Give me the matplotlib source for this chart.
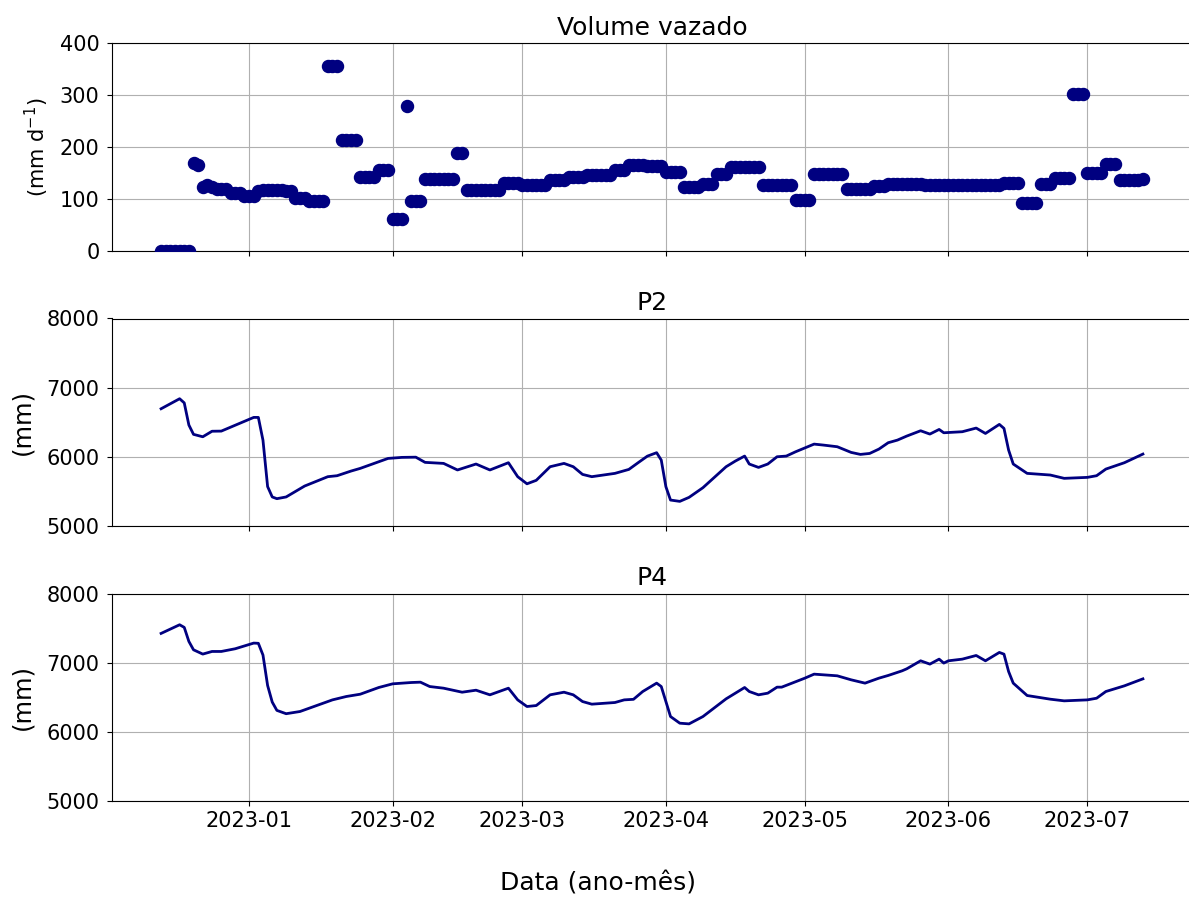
import matplotlib
matplotlib.use("Agg")
import matplotlib.pyplot as plt
import matplotlib.dates as mdates
import pandas as pd

# ---------------- data ----------------
vol_start = "2022-12-13"
vol_values = [
    # Dec 13-31
    0, 0, 0, 0, 0, 0, 0, 170, 165, 123, 126, 122, 118, 118, 118, 112, 112, 112, 105,
    # Jan
    105, 105, 116, 117, 117, 117, 117, 117, 116, 116, 101, 101, 101, 96, 96, 96, 96,
    357, 357, 357, 213, 213, 213, 213, 143, 143, 143, 143, 156, 156, 156,
    # Feb
    61, 61, 61, 278, 96, 96, 96, 138, 138, 138, 138, 138, 138, 138, 189, 189,
    117, 117, 117, 117, 117, 117, 117, 117, 131, 131, 131, 131,
    # Mar
    127, 127, 127, 127, 127, 127, 136, 136, 136, 136, 142, 142, 142, 142,
    146, 146, 146, 146, 146, 146, 156, 156, 156, 166, 166, 166, 166, 163, 163, 163, 163,
    # Apr
    151, 151, 151, 151, 123, 123, 123, 123, 129, 129, 129, 148, 148, 148,
    161, 161, 161, 161, 161, 161, 161, 127, 127, 127, 127, 127, 127, 127, 98, 98,
    # May
    98, 98, 147, 147, 147, 147, 147, 147, 147, 118, 118, 118, 118, 118, 118,
    125, 125, 125, 129, 129, 129, 129, 129, 129, 129, 129, 126, 126, 126, 126, 126,
    # Jun
    126, 126, 126, 126, 126, 126, 126, 126, 126, 126, 126, 126, 131, 131, 131, 131,
    91, 91, 91, 91, 128, 128, 128, 141, 141, 141, 141, 302, 302, 302,
    # Jul 1-13
    149, 149, 149, 149, 168, 168, 168, 136, 136, 136, 136, 136, 139,
]

p2_dates = ["2022-12-13", "2022-12-17", "2022-12-18", "2022-12-19", "2022-12-20", "2022-12-22",
            "2022-12-24", "2022-12-26", "2023-01-02", "2023-01-03", "2023-01-04", "2023-01-05",
            "2023-01-06", "2023-01-07", "2023-01-09", "2023-01-13", "2023-01-18", "2023-01-20",
            "2023-01-23", "2023-01-25", "2023-01-28", "2023-01-31", "2023-02-03", "2023-02-06",
            "2023-02-08", "2023-02-12", "2023-02-15", "2023-02-19", "2023-02-22", "2023-02-26",
            "2023-02-28", "2023-03-02", "2023-03-04", "2023-03-07", "2023-03-10", "2023-03-12",
            "2023-03-14", "2023-03-16", "2023-03-21", "2023-03-24", "2023-03-26", "2023-03-28",
            "2023-03-30", "2023-03-31", "2023-04-01", "2023-04-02", "2023-04-04", "2023-04-06",
            "2023-04-09", "2023-04-14", "2023-04-16", "2023-04-18", "2023-04-19", "2023-04-21",
            "2023-04-23", "2023-04-25", "2023-04-27", "2023-04-29", "2023-05-03", "2023-05-05",
            "2023-05-08", "2023-05-11", "2023-05-13", "2023-05-15", "2023-05-17", "2023-05-19",
            "2023-05-21", "2023-05-23", "2023-05-26", "2023-05-28", "2023-05-30", "2023-05-31",
            "2023-06-04", "2023-06-07", "2023-06-09", "2023-06-12", "2023-06-13", "2023-06-14",
            "2023-06-15", "2023-06-18", "2023-06-23", "2023-06-26", "2023-07-01", "2023-07-03",
            "2023-07-05", "2023-07-09", "2023-07-13"]
p2_values = [6695, 6840, 6780, 6460, 6325, 6290, 6370, 6372, 6570, 6570, 6240, 5570, 5420, 5395,
             5420, 5578, 5713, 5727, 5794, 5833, 5905, 5977, 5992, 5995, 5920, 5905, 5810, 5896,
             5810, 5915, 5713, 5610, 5660, 5857, 5905, 5857, 5746, 5713, 5761, 5818, 5915, 6010,
             6060, 5953, 5568, 5375, 5356, 5414, 5554, 5857, 5939, 6011, 5896, 5847, 5896, 6001,
             6011, 6073, 6184, 6170, 6146, 6064, 6035, 6049, 6112, 6204, 6242, 6300, 6377, 6329,
             6396, 6348, 6363, 6416, 6338, 6469, 6411, 6098, 5896, 5761, 5737, 5689, 5703, 5727,
             5823, 5915, 6040]

p4_dates = ["2022-12-13", "2022-12-17", "2022-12-18", "2022-12-19", "2022-12-20", "2022-12-22",
            "2022-12-24", "2022-12-26", "2022-12-29", "2023-01-02", "2023-01-03", "2023-01-04",
            "2023-01-05", "2023-01-06", "2023-01-07", "2023-01-09", "2023-01-12", "2023-01-19",
            "2023-01-22", "2023-01-25", "2023-01-29", "2023-02-01", "2023-02-05", "2023-02-07",
            "2023-02-09", "2023-02-12", "2023-02-16", "2023-02-19", "2023-02-22", "2023-02-26",
            "2023-02-28", "2023-03-02", "2023-03-04", "2023-03-07", "2023-03-10", "2023-03-12",
            "2023-03-14", "2023-03-16", "2023-03-21", "2023-03-23", "2023-03-25", "2023-03-27",
            "2023-03-30", "2023-03-31", "2023-04-01", "2023-04-02", "2023-04-04", "2023-04-06",
            "2023-04-09", "2023-04-14", "2023-04-18", "2023-04-19", "2023-04-21", "2023-04-23",
            "2023-04-25", "2023-04-26", "2023-05-01", "2023-05-03", "2023-05-08", "2023-05-11",
            "2023-05-14", "2023-05-17", "2023-05-19", "2023-05-22", "2023-05-23", "2023-05-26",
            "2023-05-28", "2023-05-30", "2023-05-31", "2023-06-01", "2023-06-04", "2023-06-07",
            "2023-06-09", "2023-06-12", "2023-06-13", "2023-06-14", "2023-06-15", "2023-06-18",
            "2023-06-23", "2023-06-26", "2023-07-01", "2023-07-03", "2023-07-05", "2023-07-09",
            "2023-07-13"]
p4_values = [7423, 7548, 7510, 7307, 7186, 7124, 7162, 7162, 7201, 7283, 7280, 7110, 6670, 6430,
             6310, 6262, 6294, 6462, 6511, 6544, 6641, 6694, 6713, 6718, 6655, 6631, 6573, 6602,
             6535, 6631, 6462, 6366, 6380, 6535, 6573, 6535, 6438, 6400, 6424, 6462, 6470, 6583,
             6704, 6655, 6438, 6221, 6125, 6115, 6221, 6477, 6641, 6583, 6535, 6559, 6646, 6646,
             6776, 6834, 6810, 6752, 6704, 6776, 6815, 6882, 6911, 7027, 6979, 7051, 6994, 7027,
             7051, 7104, 7027, 7148, 7123, 6872, 6704, 6525, 6472, 6448, 6462, 6486, 6583, 6665,
             6766]

titles = ["Volume vazado", "P2", "P4"]
ylabels = ["(mm d$^{-1}$)", "(mm)", "(mm)"]
xlabel = "Data (ano-mês)"

# ---------------- figure ----------------
W, H = 1189, 898
fig = plt.figure(figsize=(W / 100, H / 100), dpi=100)
color = "#000080"

left = 112 / W
width = 1080 / W
ax1 = fig.add_axes([left, 1 - 250.7 / H, width, 207.5 / H])
ax2 = fig.add_axes([left, 1 - 526 / H, width, 207.5 / H], sharex=ax1)
ax3 = fig.add_axes([left, 1 - 801 / H, width, 207.5 / H], sharex=ax1)

vol_dates = pd.date_range(vol_start, periods=len(vol_values), freq="D")
ax1.scatter(vol_dates, vol_values, s=75, color=color, zorder=3)
ax2.plot(pd.to_datetime(p2_dates), p2_values, color=color, lw=2)
ax3.plot(pd.to_datetime(p4_dates), p4_values, color=color, lw=2)

ax1.set_ylim(0, 400)
ax1.set_yticks([0, 100, 200, 300, 400])
for ax in (ax2, ax3):
    ax.set_ylim(5000, 8000)
    ax.set_yticks([5000, 6000, 7000, 8000])

for ax, t in zip((ax1, ax2, ax3), titles):
    ax.set_title(t, fontsize=18)
    ax.grid(True)
    ax.set_axisbelow(True)
    ax.tick_params(labelsize=15)
    ax.tick_params(axis="y", pad=5.5)
ax1.set_ylabel(ylabels[0], fontsize=15, labelpad=6)
ax2.set_ylabel(ylabels[1], fontsize=17.5, labelpad=9)
ax3.set_ylabel(ylabels[2], fontsize=17.5, labelpad=9)

ax3.xaxis.set_major_locator(mdates.MonthLocator())
ax3.xaxis.set_major_formatter(mdates.DateFormatter("%Y-%m"))
plt.setp(ax1.get_xticklabels(), visible=False)
plt.setp(ax2.get_xticklabels(), visible=False)

fig.text(598 / W, 1 - 884 / H, xlabel, ha="center", va="center", fontsize=18)

fig.savefig("out.png", dpi=100)
